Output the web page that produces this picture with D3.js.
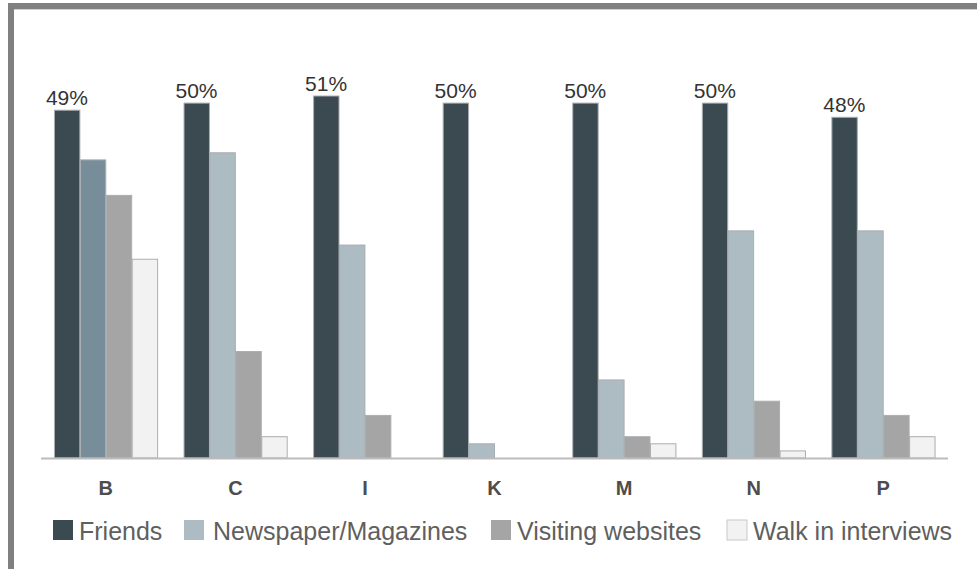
<!DOCTYPE html>
<html>
<head>
<meta charset="utf-8">
<script src="https://cdn.jsdelivr.net/npm/d3@7"></script>
<style>
  html, body { margin: 0; padding: 0; background: #fff; }
  svg { display: block; font-family: "Liberation Sans", Arial, sans-serif; }
</style>
</head>
<body>
<svg id="chart" width="977" height="569"></svg>
<script>
// Survey: where people heard about the opening, by branch (percent)
const categories = ["B", "C", "I", "K", "M", "N", "P"];
const seriesNames = ["Friends", "Newspaper/Magazines", "Visiting websites", "Walk in interviews"];
const friends    = [49, 50, 51, 50, 50, 50, 48];
const newspapers = [42, 43, 30, 2, 11, 32, 32];
const websites   = [37, 15, 6, 0, 3, 8, 6];
const walkIns    = [28, 3, 0, 0, 2, 1, 3];
const seriesValues = [friends, newspapers, websites, walkIns];

const fills = ["#3b4a51", "#adbbc2", "#a5a5a5", "#f2f2f2"];
const accentFill = "#778d99"; // the first branch's newspaper bar is drawn darker

const svg = d3.select("#chart");
const W = 977, H = 569;

// frame: grey rule along top and left edges
svg.append("rect").attr("x", 8).attr("y", 3).attr("width", W - 8).attr("height", 6).attr("fill", "#808080");
svg.append("rect").attr("x", 8).attr("y", 9).attr("width", W - 8).attr("height", 1).attr("fill", "#d0d0d0");
svg.append("rect").attr("x", 8).attr("y", 3).attr("width", 6).attr("height", H - 3).attr("fill", "#808080");

const plotLeft = 41, plotRight = 948, baseY = 458;
const x0 = d3.scaleBand().domain(categories).range([plotLeft, plotRight]).paddingInner(0.2).paddingOuter(0.1);
const x1 = d3.scaleBand().domain(seriesNames).range([0, x0.bandwidth()]);
const y = d3.scaleLinear().domain([0, 51]).range([baseY, baseY - 362]);

const rows = categories.map((c, i) => ({
  cat: c,
  vals: seriesNames.map((s, j) => ({ series: s, j, v: seriesValues[j][i], cat: c, i }))
}));

const groups = svg.append("g").selectAll("g").data(rows).join("g")
  .attr("transform", d => `translate(${x0(d.cat)},0)`);

groups.selectAll("rect").data(d => d.vals.filter(v => v.v > 0)).join("rect")
  .attr("x", d => x1(d.series) + 0.5)
  .attr("width", x1.bandwidth() - 0.5)
  .attr("y", d => y(d.v))
  .attr("height", d => y(0) - y(d.v))
  .attr("fill", d => (d.i === 0 && d.j === 1) ? accentFill : fills[d.j])
  .attr("stroke", "#a9aeb1")
  .attr("stroke-width", 1);

// value labels on the Friends bars
groups.append("text")
  .attr("x", x1("Friends") + x1.bandwidth() / 2)
  .attr("y", d => y(d.vals[0].v) - 5)
  .attr("text-anchor", "middle")
  .attr("font-size", 21)
  .attr("fill", "#333")
  .text(d => d.vals[0].v + "%");

// baseline
svg.append("line").attr("x1", plotLeft).attr("x2", plotRight)
  .attr("y1", baseY + 0.5).attr("y2", baseY + 0.5)
  .attr("stroke", "#bcbcbc").attr("stroke-width", 2);

// category axis
const xAxis = d3.axisBottom(x0).tickSize(0).tickPadding(0);
const ax = svg.append("g").attr("transform", `translate(0,${baseY + 37})`).call(xAxis);
ax.select(".domain").remove();
ax.selectAll("text")
  .attr("dy", 0)
  .attr("font-family", "Liberation Sans, Arial, sans-serif")
  .attr("font-size", 20)
  .attr("font-weight", "bold")
  .attr("fill", "#4d4d4d");

// legend
const legendX = [53, 184, 491, 727];
const legend = svg.append("g").selectAll("g").data(seriesNames).join("g")
  .attr("transform", (d, i) => `translate(${legendX[i]},520)`);
legend.append("rect")
  .attr("width", 20).attr("height", 20)
  .attr("fill", (d, i) => fills[i])
  .attr("stroke", (d, i) => i === 3 ? "#c8c8c8" : "none");
legend.append("text")
  .attr("x", (d, i) => i === 1 ? 29 : 26)
  .attr("y", 20)
  .attr("font-size", 25)
  .attr("fill", "#5f5f5f")
  .text(d => d);
</script>
</body>
</html>
